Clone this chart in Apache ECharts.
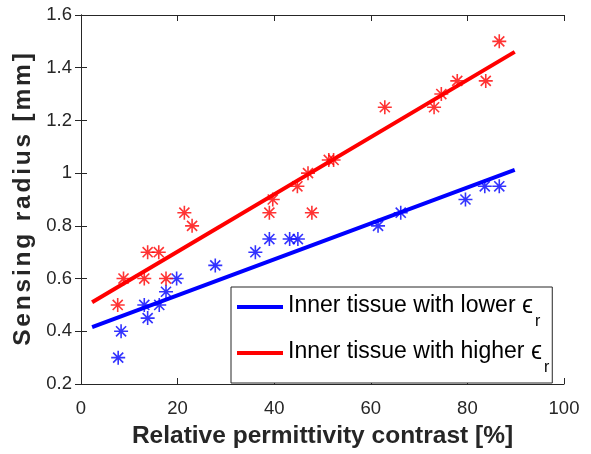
<!DOCTYPE html>
<html>
<head>
<meta charset="utf-8">
<script src="https://cdn.jsdelivr.net/npm/echarts@6/dist/echarts.min.js"></script>
<style>
html,body{margin:0;padding:0;background:#fff;}
#chart{width:591px;height:454px;}
</style>
</head>
<body>
<div id="chart"></div>
<script>
// Measured data
const blueX = [7.7, 8.3, 13.1, 13.8, 16.2, 17.6, 19.8, 27.8, 36.1, 39.0, 43.2, 44.9, 61.5, 66.2, 79.6, 83.6, 86.6];
const blueY = [0.3, 0.4, 0.5, 0.45, 0.5, 0.55, 0.6, 0.65, 0.7, 0.75, 0.75, 0.75, 0.8, 0.85, 0.9, 0.95, 0.95];
const redX = [7.6, 8.8, 13.1, 13.8, 16.1, 17.6, 21.4, 23.0, 39.0, 39.7, 44.8, 47.0, 47.8, 51.3, 52.3, 62.9, 73.1, 74.6, 77.9, 83.8, 86.6];
const redY = [0.5, 0.6, 0.6, 0.7, 0.7, 0.6, 0.85, 0.8, 0.85, 0.9, 0.95, 1.0, 0.85, 1.05, 1.05, 1.25, 1.25, 1.3, 1.35, 1.35, 1.5];
const blueFitX = [2.3, 89.8];
const blueFitY = [0.416, 1.012];
const redFitX = [2.3, 89.8];
const redFitY = [0.51, 1.46];
const seriesNames = ['Inner tissue with lower ϵr', 'Inner tissue with higher ϵr'];
const xTicks = [0, 20, 40, 60, 80, 100];
const yTicks = [0.2, 0.4, 0.6, 0.8, 1.0, 1.2, 1.4, 1.6];
const xTitle = 'Relative permittivity contrast [%]';
const yTitle = 'Sensing radius [mm]';

const zip = (xs, ys) => xs.map((x, i) => [x, ys[i]]);
const FONT = '"Liberation Sans", Arial, Helvetica, sans-serif';
const AX = '#262626';
const asterisk = 'path://M0,-1L0,1M-1,0L1,0M-0.72,-0.72L0.72,0.72M-0.72,0.72L0.72,-0.72';
// spaced characters (rotated MATLAB label renders with wider spacing)
const spaced = s => s.split('').map(c => '{c|' + c + '}').join('');

const chart = echarts.init(document.getElementById('chart'), null, {renderer: 'canvas'});

const baseAxis = {
  axisLine: {show: true, lineStyle: {color: AX, width: 1}},
  axisTick: {show: true, inside: true, length: 6, lineStyle: {color: AX, width: 1}},
  splitLine: {show: false}
};

chart.setOption({
  animation: false,
  backgroundColor: '#fff',
  textStyle: {fontFamily: FONT},
  grid: {left: 81, right: 27, top: 15, bottom: 67, containLabel: false},
  xAxis: [
    Object.assign({}, baseAxis, {
      type: 'value', min: xTicks[0], max: xTicks[xTicks.length - 1], interval: 20,
      position: 'bottom',
      axisLabel: {color: AX, fontSize: 18.5, fontFamily: FONT, margin: 15},
      name: xTitle, nameLocation: 'middle', nameGap: 40,
      nameTextStyle: {color: AX, fontSize: 24.5, fontWeight: 'bold', fontFamily: FONT}
    }),
    Object.assign({}, baseAxis, {
      type: 'value', min: xTicks[0], max: xTicks[xTicks.length - 1], interval: 20,
      position: 'top', axisLabel: {show: false}
    })
  ],
  yAxis: [
    Object.assign({}, baseAxis, {
      type: 'value', min: yTicks[0], max: yTicks[yTicks.length - 1], interval: 0.2,
      position: 'left',
      axisLabel: {color: AX, fontSize: 18.5, fontFamily: FONT, margin: 9,
        formatter: v => String(+v.toFixed(1))},
      name: spaced(yTitle), nameLocation: 'middle', nameGap: 43, nameRotate: 90,
      nameTextStyle: {color: AX, fontSize: 24.5, fontWeight: 'bold', fontFamily: FONT,
        rich: {c: {color: AX, fontSize: 24.5, fontWeight: 'bold', fontFamily: FONT, padding: [0, 1.4, 0, 1.4]}}}
    }),
    Object.assign({}, baseAxis, {
      type: 'value', min: yTicks[0], max: yTicks[yTicks.length - 1], interval: 0.2,
      position: 'right', axisLabel: {show: false}
    })
  ],
  legend: {
    orient: 'vertical', left: 231, top: 287,
    data: seriesNames,
    icon: 'rect', itemWidth: 46, itemHeight: 4, itemGap: 10,
    padding: [7, 3, 7, 6],
    borderColor: AX, borderWidth: 1, backgroundColor: '#fff',
    selectedMode: false,
    formatter: name => '{m|' + name.slice(0, -2) + '}{e|ϵ}{s|r}',
    textStyle: {
      fontFamily: FONT, color: '#000',
      rich: {
        m: {fontSize: 23, lineHeight: 26, verticalAlign: 'top', fontFamily: FONT, color: '#000'},
        e: {fontSize: 25, lineHeight: 26, verticalAlign: 'top', fontFamily: FONT, color: '#000'},
        s: {fontSize: 16, lineHeight: 16, padding: [20, 0, 0, 2], verticalAlign: 'top', fontFamily: FONT, color: '#000'}
      }
    }
  },
  series: [
    {
      name: 'blueStars', type: 'scatter', data: zip(blueX, blueY),
      symbol: asterisk, symbolSize: 14,
      itemStyle: {color: 'none', borderColor: '#0000ff', borderWidth: 1.6},
      z: 3
    },
    {
      name: 'redStars', type: 'scatter', data: zip(redX, redY),
      symbol: asterisk, symbolSize: 14,
      itemStyle: {color: 'none', borderColor: '#ff0000', borderWidth: 1.6},
      z: 3
    },
    {
      name: seriesNames[0], type: 'line', data: zip(blueFitX, blueFitY),
      symbol: 'none', lineStyle: {color: '#0000ff', width: 4}, itemStyle: {color: '#0000ff'},
      z: 2
    },
    {
      name: seriesNames[1], type: 'line', data: zip(redFitX, redFitY),
      symbol: 'none', lineStyle: {color: '#ff0000', width: 4}, itemStyle: {color: '#ff0000'},
      z: 2
    }
  ]
});
</script>
</body>
</html>
